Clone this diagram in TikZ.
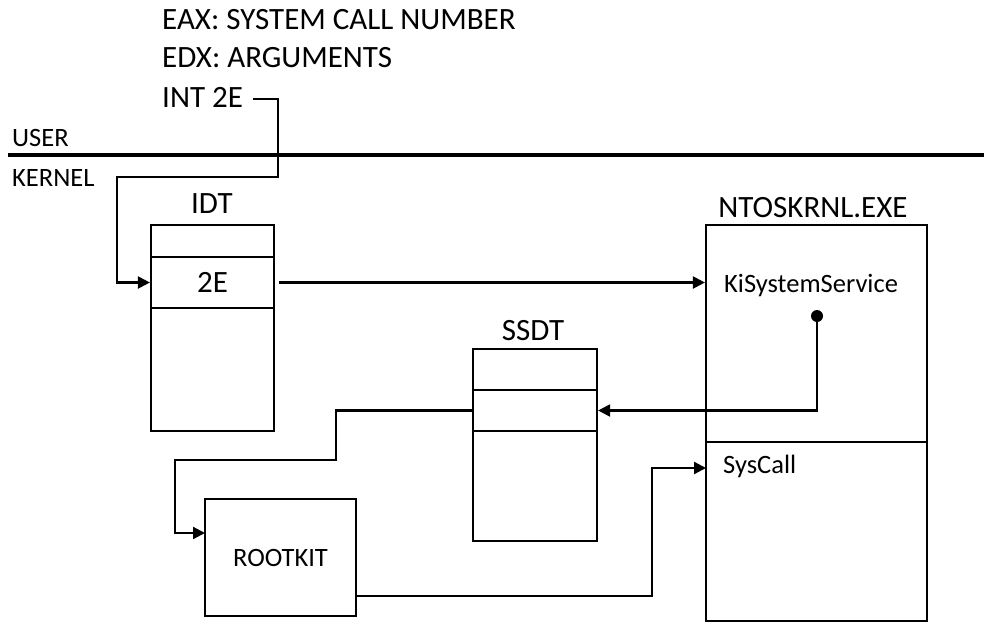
\documentclass[tikz,border=0pt]{standalone}
\usepackage{fontspec}
\setmainfont{Carlito}
\usetikzlibrary{arrows.meta}
\begin{document}
\begin{tikzpicture}[x=1pt,y=-1pt,
  lbl/.style={inner sep=0pt, font=\fontsize{26.5}{30}\selectfont},
  big/.style={inner sep=0pt, font=\fontsize{31}{34}\selectfont},
  title/.style={inner sep=0pt, font=\fontsize{31}{34}\selectfont, anchor=base},
  cell/.style={draw, line width=2.2pt, inner sep=0pt, font=\fontsize{26.5}{30}\selectfont},
  conn/.style={line width=2.2pt, -{Triangle[length=12pt,width=12pt]}},
  wire/.style={line width=2.2pt}]
\useasboundingbox (0,0) rectangle (984,624);
% top texts
\node[big, anchor=base west] (eax) at (162,29) {EAX: SYSTEM CALL NUMBER};
\node[big, anchor=base west] (edx) at (162,67) {EDX: ARGUMENTS};
\node[big, anchor=base west] (int) at (162,107) {INT 2E};
\node[lbl, anchor=base west] (user) at (12,146) {USER};
\node[lbl, anchor=base west] (kernel) at (12,186) {KERNEL};
\coordinate (sepL) at (8,155);
\coordinate (sepR) at (984,155);
\draw[line width=4.5pt] (sepL) -- (sepR);
% IDT
\node[title] (idtlbl) at (212,213) {IDT};
\node[cell, minimum width=123pt, minimum height=32pt] (idt1) at (212.5,241) {};
\node[cell, minimum width=123pt, minimum height=51pt, font=\fontsize{31}{34}\selectfont] (idt2) at (212.5,282.5) {2E};
\node[cell, minimum width=123pt, minimum height=123pt] (idt3) at (212.5,369.5) {};
% SSDT
\node[title] (sslbl) at (533,340) {SSDT};
\node[cell, minimum width=124pt, minimum height=41pt] (ss1) at (535,369.5) {};
\node[cell, minimum width=124pt, minimum height=41pt] (ss2) at (535,410.5) {};
\node[cell, minimum width=124pt, minimum height=110pt] (ss3) at (535,486) {};
% NTOSKRNL
\node[title] (ntlbl) at (813,217) {NTOSKRNL.EXE};
\node[cell, minimum width=221pt, minimum height=217pt] (nt1) at (816.5,333.5) {};
\node[cell, minimum width=221pt, minimum height=179pt] (nt2) at (816.5,531.5) {};
\node[lbl, anchor=base west] (kiss) at (724,292) {KiSystemService};
\node[lbl, anchor=base west] (sysc) at (723,473) {SysCall};
\node[circle, fill, inner sep=0pt, minimum size=12pt] (dot) at (817,316) {};
% ROOTKIT
\node[cell, minimum width=151pt, minimum height=117pt] (rk) at (280.5,557.5) {ROOTKIT};
% connectors
\coordinate (intE) at (253,99);
\draw[conn] (intE) -- (278,99) -- (278,177) -- (117,177) |- (idt2.west);
\draw[conn, shorten <=4pt] (idt2.east) -- (idt2.east -| nt1.west);
\draw[conn] (dot.center) |- (ss2.east);
\coordinate (rkin) at (205,533);
\draw[conn] (ss2.west) -- (336,410.5) -- (336,460) -- (175,460) |- (rkin);
\coordinate (ntin) at (706,468);
\coordinate (rkout) at (356,596);
\draw[conn] (rkout) -- (652,596) |- (ntin);
\end{tikzpicture}
\end{document}
